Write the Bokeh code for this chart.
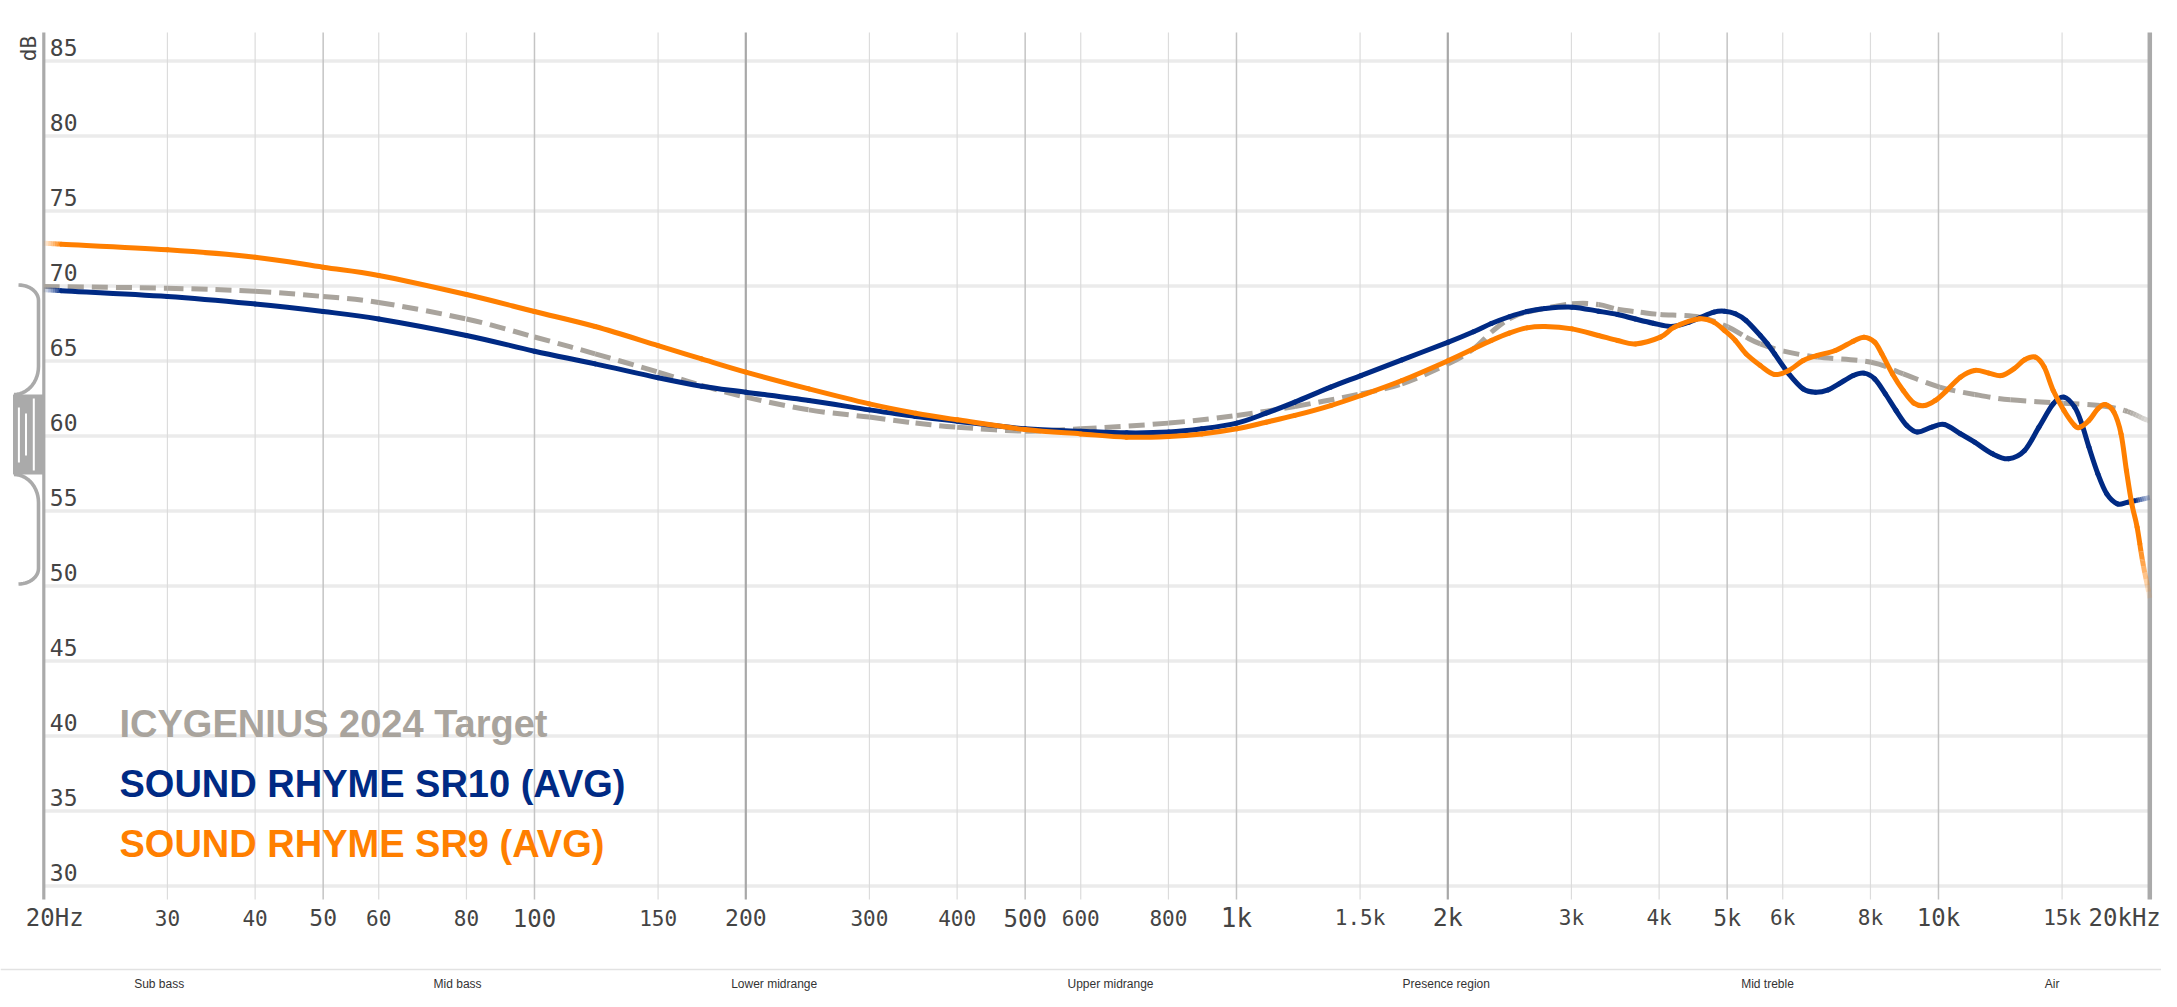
import numpy as np
from bokeh.plotting import figure
from bokeh.models import Range1d, LinearScale, ColumnDataSource
from bokeh.embed import file_html
from bokeh.resources import INLINE
from bokeh.core.properties import value

# ---------------- data ----------------
target_hz = [20, 30, 40, 50, 60, 80, 100, 122, 150, 173, 200, 246, 300, 349, 400, 500, 600, 801, 1001, 1211,
             1504, 1721, 2004, 2176, 2307, 2446, 2593, 3006, 3278, 3490, 3765, 4017, 4569, 5017, 5319, 5574,
             6017, 6723, 8016, 8908, 10039, 11260, 12659, 15055, 16966, 18416, 19640, 20000]
target_db = [69.97, 69.85, 69.65, 69.30, 68.90, 67.80, 66.60, 65.48, 64.26, 63.37, 62.59, 61.74, 61.26, 60.86,
             60.59, 60.32, 60.48, 60.86, 61.37, 61.97, 62.81, 63.48, 64.81, 65.81, 66.92, 67.81, 68.26, 68.81,
             68.77, 68.45, 68.25, 68.10, 67.92, 67.26, 66.59, 66.14, 65.66, 65.26, 64.92, 64.14, 63.26, 62.77,
             62.41, 62.19, 62.03, 61.70, 61.14, 61.0]

sr10_hz = [20, 30, 40, 50, 60, 80, 100, 122, 150, 173, 200, 246, 300, 349, 400, 500, 600, 698, 801, 893,
           1001, 1102, 1211, 1362, 1504, 1721, 2004, 2176, 2307, 2446, 2593, 2750, 3006, 3278, 3490, 3700,
           3923, 4160, 4412, 4569, 4787, 4958, 5136, 5319, 5574, 5706, 5841, 6121, 6415, 6684, 6965, 7214,
           7562, 7831, 8111, 8401, 8701, 9013, 9335, 9783, 10193, 10744, 11260, 11939, 12585, 13266, 13903,
           14570, 15091, 15631, 16001, 16380, 16867, 17368, 17989, 18632, 20000]
sr10_db = [69.75, 69.30, 68.80, 68.30, 67.80, 66.70, 65.65, 64.81, 63.88, 63.32, 62.92, 62.37, 61.74, 61.30,
           60.99, 60.48, 60.32, 60.21, 60.26, 60.48, 60.86, 61.52, 62.26, 63.26, 64.03, 65.08, 66.26, 66.95,
           67.50, 67.95, 68.30, 68.50, 68.59, 68.32, 68.10, 67.80, 67.52, 67.30, 67.59, 67.88, 68.26, 68.32,
           68.15, 67.70, 66.70, 66.14, 65.48, 64.14, 63.14, 62.92, 63.08, 63.48, 64.03, 64.19, 63.81, 62.81,
           61.70, 60.70, 60.26, 60.59, 60.77, 60.15, 59.59, 58.81, 58.48, 59.03, 60.59, 62.14, 62.59, 61.92,
           60.81, 59.26, 57.48, 56.14, 55.48, 55.59, 55.9]

sr9_hz = [20, 30, 40, 50, 60, 80, 100, 122, 150, 173, 200, 246, 300, 349, 400, 500, 600, 698, 801, 893,
          1001, 1102, 1211, 1362, 1504, 1721, 2004, 2176, 2307, 2446, 2593, 2750, 3006, 3278, 3490, 3700,
          4017, 4209, 4569, 4787, 4958, 5136, 5319, 5574, 5841, 6121, 6415, 6723, 7130, 7562, 7831, 8111,
          8303, 8600, 8908, 9226, 9556, 9899, 10252, 10744, 11260, 11800, 12294, 12808, 13266, 13741, 14149,
          14570, 15091, 15631, 15908, 16380, 16867, 17267, 17780, 18201, 18524, 18853, 19186, 19525, 20000]
sr9_db = [72.85, 72.41, 71.92, 71.25, 70.70, 69.43, 68.30, 67.30, 66.03, 65.14, 64.26, 63.14, 62.14, 61.52,
          61.08, 60.43, 60.14, 59.92, 59.97, 60.14, 60.48, 60.92, 61.37, 62.03, 62.70, 63.70, 65.03, 65.81,
          66.37, 66.86, 67.21, 67.30, 67.14, 66.70, 66.37, 66.14, 66.59, 67.26, 67.81, 67.59, 67.03, 66.37,
          65.48, 64.70, 64.10, 64.37, 65.03, 65.37, 65.70, 66.32, 66.59, 66.26, 65.48, 64.14, 63.03, 62.19,
          62.03, 62.37, 62.99, 63.92, 64.37, 64.19, 64.03, 64.48, 65.08, 65.26, 64.59, 63.03, 61.70, 60.70,
          60.59, 61.03, 61.81, 62.10, 61.59, 60.14, 57.70, 55.48, 53.92, 51.70, 49.2]

y_ticks = [30, 35, 40, 45, 50, 55, 60, 65, 70, 75, 80, 85]
x_ticks = [20, 30, 40, 50, 60, 80, 100, 150, 200, 300, 400, 500, 600, 800, 1000, 1500, 2000, 3000, 4000,
           5000, 6000, 8000, 10000, 15000, 20000]
x_tick_labels = ["20Hz", "30", "40", "50", "60", "80", "100", "150", "200", "300", "400", "500", "600",
                 "800", "1k", "1.5k", "2k", "3k", "4k", "5k", "6k", "8k", "10k", "15k", "20kHz"]
legend_names = ["ICYGENIUS 2024 Target", "SOUND RHYME SR10 (AVG)", "SOUND RHYME SR9 (AVG)"]
region_names = ["Sub bass", "Mid bass", "Lower midrange", "Upper midrange", "Presence region",
                "Mid treble", "Air"]
region_centers_hz = [29.2, 77.7, 219.5, 661.5, 1990, 5708, 14516]

# ---------------- styling / geometry ----------------
C_TARGET = "#a9a49d"
C_SR10 = "#002a84"
C_SR9 = "#ff7f00"
LABEL_C = "#444444"
MONO = value("DejaVu Sans Mono")
SANS = value("Liberation Sans")

W, H = 2161, 991
X20 = 43.3         # canvas x of 20 Hz
DEC = 702.0        # px per decade
Y85 = 60.5         # canvas y of 85 dB
PXDB = 15.0        # px per dB
TOP_Y, BOT_Y = 32, 899   # vertical extent of the chart grid (canvas px)

x_start = 20 * 10 ** ((0 - X20) / DEC)
x_end = 20 * 10 ** ((W - X20) / DEC)
y_top = 85 + Y85 / PXDB
y_bot = 85 - (H - Y85) / PXDB

p = figure(width=W, height=H, x_axis_type="log",
           x_range=Range1d(x_start, x_end), y_range=Range1d(y_bot, y_top),
           x_axis_location=None, y_axis_location=None,
           output_backend="svg", toolbar_location=None, min_border=0,
           outline_line_color=None, background_fill_color="white", border_fill_color="white")
p.extra_x_ranges = {"px": Range1d(0, W)}
p.extra_x_scales = {"px": LinearScale()}
p.extra_y_ranges = {"py": Range1d(H, 0)}
p.extra_y_scales = {"py": LinearScale()}
p.grid.visible = False

# horizontal grid lines
p.segment(x0=[20] * len(y_ticks), x1=[20000] * len(y_ticks), y0=y_ticks, y1=y_ticks,
          line_color="#ebebeb", line_width=3.5)

# vertical grid lines
dark = {200, 2000}
mid = {50, 100, 500, 1000, 5000, 10000}
inner = [t for t in x_ticks if t not in (20, 20000)]
vcol = ["#a8a8a8" if t in dark else ("#c4c4c4" if t in mid else "#dcdcdc") for t in inner]
vwid = [2.2 if t in dark else (1.5 if t in mid else 1.2) for t in inner]
p.segment(x0="x", x1="x", y0="y0", y1="y1", y_range_name="py", line_color="c", line_width="w",
          source=ColumnDataSource(dict(x=inner, y0=[TOP_Y] * len(inner), y1=[BOT_Y] * len(inner),
                                       c=vcol, w=vwid)))
# frame lines at 20 Hz and 20 kHz
p.segment(x0="x", x1="x", y0="y0", y1="y1", y_range_name="py", line_color="#aaaaaa", line_width="w",
          source=ColumnDataSource(dict(x=[20, 20000], y0=[TOP_Y, TOP_Y], y1=[BOT_Y, BOT_Y], w=[3.2, 4.5])))

# y-axis scale handle (bracket) at the left edge
t = np.linspace(0, np.pi / 2, 14)
top_hook_x = 18 + 20 * np.cos(np.pi / 2 - t)
top_hook_y = 300 - 15.5 * np.sin(np.pi / 2 - t)
low_curve_x = 13.5 + 24.5 * np.cos(t)
low_curve_y = 366 + 28 * np.sin(t)
bx = np.concatenate([top_hook_x, low_curve_x])
by = np.concatenate([top_hook_y, low_curve_y])
mid_y = 434.0
for ys_ in (by, 2 * mid_y - by):
    p.line(bx, ys_, x_range_name="px", y_range_name="py", line_color="#aaaaaa", line_width=3.6,
           line_join="round")
p.quad(left=[12.5], right=[43], top=[394], bottom=[474], x_range_name="px", y_range_name="py",
       fill_color="#aaaaaa", line_color=None)
p.segment(x0=[18.4, 25.5, 33.3], x1=[18.4, 25.5, 33.3], y0=[407, 413, 398], y1=[462, 455, 470],
          x_range_name="px", y_range_name="py", line_color="white", line_width=2)

# the svg text renderer places 'alphabetic' text roughly 0.38 em low; compensate
def lift(px):
    return -round(0.38 * px)


# y tick labels (inside the plot, above each grid line)
p.text(x=[20] * len(y_ticks), y=y_ticks, text=[str(v) for v in y_ticks], x_offset=6, y_offset=-5 + lift(23),
       text_align="left", text_baseline="alphabetic", text_font=MONO, text_font_size="23px",
       text_color=LABEL_C)
p.text(x=[28], y=[48], text=["dB"], angle=np.pi / 2, x_range_name="px", y_range_name="py",
       text_align="center", text_baseline="middle", text_font=MONO, text_font_size="21px",
       text_color=LABEL_C)

# x tick labels
size_map = {"20Hz": 24, "50": 23, "100": 24, "200": 23, "500": 24, "1k": 26, "2k": 25, "5k": 23,
            "10k": 24, "20kHz": 24}
sizes = ["%dpx" % size_map.get(l, 21) for l in x_tick_labels]
mid_idx = list(range(1, len(x_ticks) - 1))
p.text(x="x", y="y", text="t", text_font_size="s", y_range_name="py", y_offset=lift(24),
       source=ColumnDataSource(dict(x=[x_ticks[i] for i in mid_idx], y=[926] * len(mid_idx),
                                    t=[x_tick_labels[i] for i in mid_idx], s=[sizes[i] for i in mid_idx])),
       text_align="center", text_baseline="alphabetic", text_font=MONO, text_color=LABEL_C)
p.text(x=[x_ticks[0]], y=[926], text=[x_tick_labels[0]], y_range_name="py", x_offset=-18, y_offset=lift(24),
       text_align="left", text_baseline="alphabetic", text_font=MONO, text_font_size=sizes[0],
       text_color=LABEL_C)
p.text(x=[x_ticks[-1]], y=[926], text=[x_tick_labels[-1]], y_range_name="py", x_offset=11, y_offset=lift(24),
       text_align="right", text_baseline="alphabetic", text_font=MONO, text_font_size=sizes[-1],
       text_color=LABEL_C)

# separator and frequency-region labels
p.segment(x0=[0], x1=[W], y0=[969], y1=[969], x_range_name="px", y_range_name="py",
          line_color="#e2e2e2", line_width=1.5)
p.text(x=region_centers_hz, y=[988] * len(region_names), text=region_names, y_range_name="py",
       y_offset=lift(12),
       text_align="center", text_baseline="alphabetic", text_font=SANS, text_font_size="12px",
       text_color="#333333")


# ---------------- smooth curves (Catmull-Rom through the read points) ----------------
def cr_segments(hz, db):
    u = np.log10(np.asarray(hz, float))
    v = np.asarray(db, float)
    up = np.r_[2 * u[0] - u[1], u, 2 * u[-1] - u[-2]]
    vp = np.r_[2 * v[0] - v[1], v, 2 * v[-1] - v[-2]]
    P = np.column_stack([up, vp])
    segs = []
    for i in range(len(u) - 1):
        p0, p1, p2, p3 = P[i], P[i + 1], P[i + 2], P[i + 3]
        segs.append(np.array([p1, p1 + (p2 - p0) / 6, p2 - (p3 - p1) / 6, p2]))
    return segs


def bez_pt(s, t):
    return ((1 - t) ** 3) * s[0] + 3 * ((1 - t) ** 2) * t * s[1] + 3 * (1 - t) * t * t * s[2] + t ** 3 * s[3]


def bez_split(s, t):
    a = s[0] + (s[1] - s[0]) * t
    b = s[1] + (s[2] - s[1]) * t
    c = s[2] + (s[3] - s[2]) * t
    d = a + (b - a) * t
    e = b + (c - b) * t
    f = d + (e - d) * t
    return np.array([s[0], a, d, f]), np.array([f, e, c, s[3]])


def bez_t_for_u(s, u):
    lo, hi = 0.0, 1.0
    for _ in range(50):
        m = 0.5 * (lo + hi)
        if bez_pt(s, m)[0] < u:
            lo = m
        else:
            hi = m
    return 0.5 * (lo + hi)


def pieces(hz, db, cut_hz):
    cuts = np.sort(np.log10(np.asarray(cut_hz, float)))
    out = []
    for s in cr_segments(hz, db):
        rest = s
        for cu in cuts:
            if rest[0][0] < cu < rest[3][0] - 1e-9:
                left, rest = bez_split(rest, bez_t_for_u(rest, cu))
                out.append(left)
        out.append(rest)
    return out


def bez_source(ps, alphas):
    ps = np.array(ps)
    return ColumnDataSource(dict(x0=10 ** ps[:, 0, 0], y0=ps[:, 0, 1], cx0=10 ** ps[:, 1, 0], cy0=ps[:, 1, 1],
                                 cx1=10 ** ps[:, 2, 0], cy1=ps[:, 2, 1], x1=10 ** ps[:, 3, 0], y1=ps[:, 3, 1],
                                 a=alphas))


def draw_curve(hz, db, color, lfade, rfade, a_end, dash=None):
    n = 8
    cut = []
    if lfade:
        cut += [lfade[0] * (lfade[1] / lfade[0]) ** (k / n) for k in range(1, n + 1)]
    if rfade:
        cut += [rfade[0] * (rfade[1] / rfade[0]) ** (k / n) for k in range(0, n)]
    ps = pieces(hz, db, cut)
    solid, faded, fal = [], [], []
    for s in ps:
        um = 0.5 * (s[0][0] + s[3][0])
        a = 1.0
        if lfade and um < np.log10(lfade[1]):
            fr = (um - np.log10(lfade[0])) / (np.log10(lfade[1]) - np.log10(lfade[0]))
            a = 0.05 + 0.95 * fr
        if rfade and um > np.log10(rfade[0]):
            fr = (um - np.log10(rfade[0])) / (np.log10(rfade[1]) - np.log10(rfade[0]))
            a = 1.0 - (1.0 - a_end) * fr
        if a >= 0.999:
            solid.append(s)
        else:
            faded.append(s)
            fal.append(a)
    kw = dict(line_color=color, line_width=5)
    if dash:
        kw["line_dash"] = dash
        cap = "butt"
    else:
        cap = "round"
    p.bezier(x0="x0", y0="y0", x1="x1", y1="y1", cx0="cx0", cy0="cy0", cx1="cx1", cy1="cy1",
             source=bez_source(solid, [1.0] * len(solid)), line_cap=cap, **kw)
    if faded:
        p.bezier(x0="x0", y0="y0", x1="x1", y1="y1", cx0="cx0", cy0="cy0", cx1="cx1", cy1="cy1",
                 source=bez_source(faded, fal), line_alpha="a", line_cap="butt", **kw)


draw_curve(target_hz, target_db, C_TARGET, None, (18600, 20000), 0.3, dash="16 8")
draw_curve(sr10_hz, sr10_db, C_SR10, (20, 21.2), (19000, 20000), 0.2)
draw_curve(sr9_hz, sr9_db, C_SR9, (20, 21.2), (19350, 20000), 0.05)

# legend (text only)
p.text(x=[119] * 3, y=[737.3, 797.3, 857.3], text=legend_names, x_range_name="px", y_range_name="py",
       y_offset=lift(38),
       text_color=[C_TARGET, C_SR10, C_SR9], text_align="left", text_baseline="alphabetic",
       text_font=SANS, text_font_style="bold", text_font_size="38px")

open("out.html", "w").write(file_html(p, INLINE))
